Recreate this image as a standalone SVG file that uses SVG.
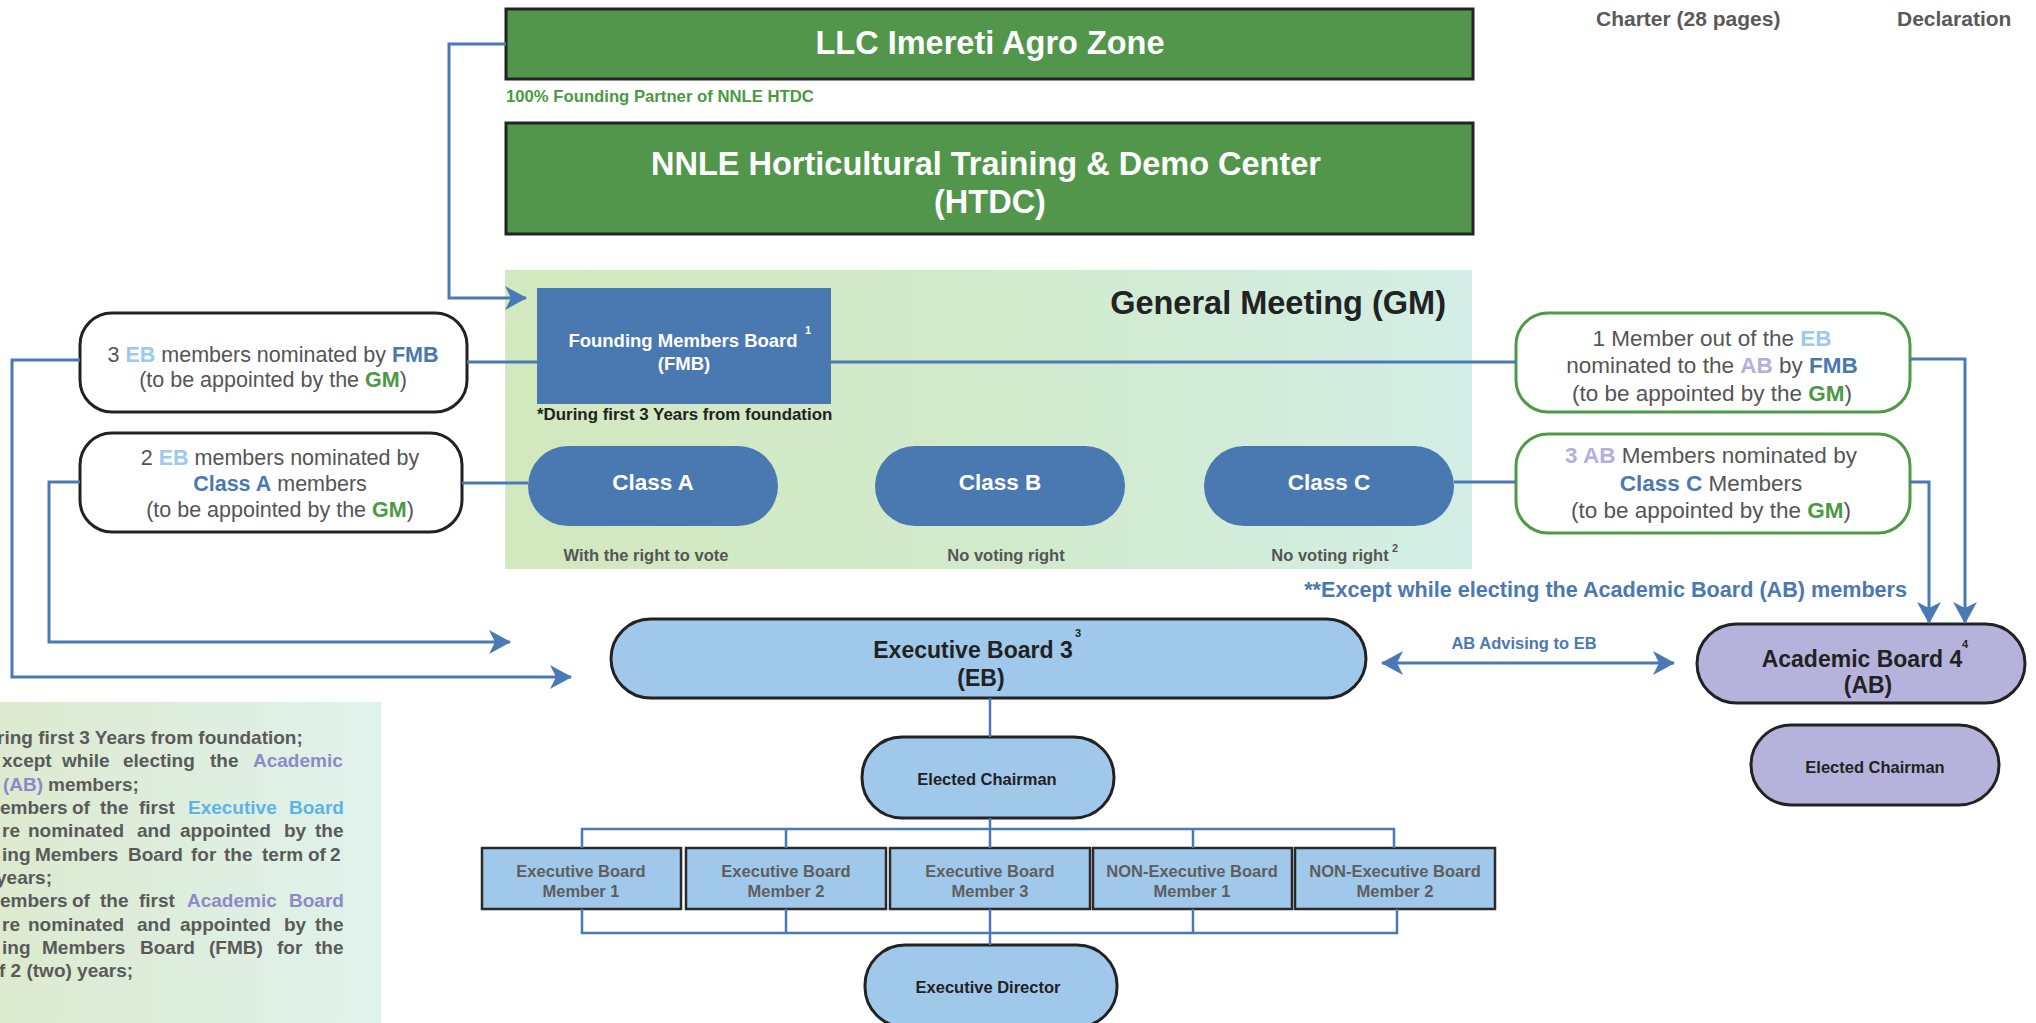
<svg xmlns="http://www.w3.org/2000/svg" width="2036" height="1023" viewBox="0 0 2036 1023">
<style>
text{font-family:"Liberation Sans",Arial,Helvetica,sans-serif}
.b{font-weight:bold}
.green{fill:#52964b;stroke:#232323;stroke-width:3}
.wt{fill:#fff;font-weight:bold}
.blk{fill:#222;font-weight:bold}
.dk{fill:#4a79b1}
.pill{fill:#4a79b1}
.lb{fill:#9fc8ea;stroke:#222;stroke-width:3}
.lav{fill:#b5b3dc;stroke:#222;stroke-width:3}
.mem{fill:#9fc8ea;stroke:#2a2a2a;stroke-width:2.5}
.memt{fill:#5e5e5e;font-weight:bold;font-size:16.5px}
.gray{fill:#555}
.gb{fill:#555;font-weight:bold}
.cEB{fill:#9ccaee;font-weight:bold}
.cAB{fill:#b3b0de;font-weight:bold}
.cFMB{fill:#4a79b1;font-weight:bold}
.cGM{fill:#4a9a44;font-weight:bold}
.nbox{fill:#fff;stroke:#222;stroke-width:3}
.gbox{fill:#fff;stroke:#4e9a46;stroke-width:3}
.conn{fill:none;stroke:#4a7ab5;stroke-width:3}
.bus{fill:none;stroke:#4a7ab5;stroke-width:2.5}
.note{fill:#5a5a5a;font-weight:bold;font-size:19px}
.np{fill:#8f88c9}
.nb{fill:#5cb3e6}
</style>
<defs>
<linearGradient id="gmg" x1="0" y1="0" x2="1" y2="0">
<stop offset="0" stop-color="#d2e8be"/>
<stop offset="0.5" stop-color="#d1eacb"/>
<stop offset="1" stop-color="#d3eee6"/>
</linearGradient>
<linearGradient id="ng" x1="0" y1="0" x2="1" y2="0">
<stop offset="0" stop-color="#dceacf"/>
<stop offset="1" stop-color="#e0f2ec"/>
</linearGradient>
<marker id="arr" markerUnits="userSpaceOnUse" markerWidth="22" markerHeight="24" viewBox="0 0 22 24" refX="21" refY="12" orient="auto-start-reverse">
<path d="M0,0 L22,12 L0,24 L6,12 Z" fill="#4a7ab5"/>
</marker>
</defs>
<rect width="2036" height="1023" fill="#fff"/>

<g id="header-notes">
<text x="1596" y="26" class="b" font-size="21" fill="#595959">Charter (28 pages)</text>
<text x="1897" y="26" class="b" font-size="21" fill="#595959">Declaration</text>
</g>

<g id="llc">
<rect x="506" y="9" width="967" height="70" class="green"/>
<text x="990" y="54" text-anchor="middle" class="wt" font-size="32.5">LLC Imereti Agro Zone</text>
<text x="506" y="102" class="cGM" font-size="16.7">100% Founding Partner of NNLE HTDC</text>
</g>

<g id="htdc">
<rect x="506" y="123" width="967" height="111" class="green"/>
<text x="986" y="175" text-anchor="middle" class="wt" font-size="32.5">NNLE Horticultural Training &amp; Demo Center</text>
<text x="990" y="213" text-anchor="middle" class="wt" font-size="32.5">(HTDC)</text>
</g>

<g id="general-meeting">
<rect x="505" y="270" width="967" height="299" fill="url(#gmg)"/>
<text x="1446" y="314" text-anchor="end" class="blk" font-size="32.5">General Meeting (GM)</text>
</g>

<g id="fmb">
<rect x="537" y="288" width="294" height="116" fill="#4a79b1"/>
<text x="683" y="347" text-anchor="middle" class="wt" font-size="18.5">Founding Members Board</text>
<text x="805" y="334" class="wt" font-size="11">1</text>
<text x="684" y="370" text-anchor="middle" class="wt" font-size="18.5">(FMB)</text>
<text x="537" y="420" class="blk" font-size="16.9" fill="#111">*During first 3 Years from foundation</text>
</g>

<g id="class-a">
<rect x="528" y="446" width="250" height="80" rx="40" class="pill"/>
<text x="653" y="490" text-anchor="middle" class="wt" font-size="22.5">Class A</text>
<text x="646" y="561" text-anchor="middle" class="gb" font-size="16.5">With the right to vote</text>
</g>
<g id="class-b">
<rect x="875" y="446" width="250" height="80" rx="40" class="pill"/>
<text x="1000" y="490" text-anchor="middle" class="wt" font-size="22.5">Class B</text>
<text x="1006" y="561" text-anchor="middle" class="gb" font-size="16.5">No voting right</text>
</g>
<g id="class-c">
<rect x="1204" y="446" width="250" height="80" rx="40" class="pill"/>
<text x="1329" y="490" text-anchor="middle" class="wt" font-size="22.5">Class C</text>
<text x="1330" y="561" text-anchor="middle" class="gb" font-size="16.5">No voting right</text>
<text x="1392" y="552" class="gb" font-size="11">2</text>
</g>

<g id="eb-fmb-nominees">
<rect x="80" y="313" width="387" height="99" rx="32" class="nbox"/>
<text x="273" y="362" text-anchor="middle" class="gray" font-size="21.5">3 <tspan class="cEB">EB</tspan> members nominated by <tspan class="cFMB">FMB</tspan></text>
<text x="273" y="387" text-anchor="middle" class="gray" font-size="21.5">(to be appointed by the <tspan class="cGM">GM</tspan>)</text>
</g>

<g id="eb-classa-nominees">
<rect x="80" y="433" width="382" height="99" rx="32" class="nbox"/>
<text x="280" y="465" text-anchor="middle" class="gray" font-size="21.5">2 <tspan class="cEB">EB</tspan> members nominated by</text>
<text x="280" y="491" text-anchor="middle" class="gray" font-size="21.5"><tspan class="cFMB">Class A</tspan> members</text>
<text x="280" y="517" text-anchor="middle" class="gray" font-size="21.5">(to be appointed by the <tspan class="cGM">GM</tspan>)</text>
</g>

<g id="ab-fmb-nominee">
<rect x="1516" y="313" width="394" height="99" rx="32" class="gbox"/>
<text x="1712" y="346" text-anchor="middle" class="gray" font-size="22.5">1 Member out of the <tspan class="cEB">EB</tspan></text>
<text x="1712" y="373" text-anchor="middle" class="gray" font-size="22.5">nominated to the <tspan class="cAB">AB</tspan> by <tspan class="cFMB">FMB</tspan></text>
<text x="1712" y="401" text-anchor="middle" class="gray" font-size="22.5">(to be appointed by the <tspan class="cGM">GM</tspan>)</text>
</g>

<g id="ab-classc-nominees">
<rect x="1516" y="434" width="394" height="99" rx="32" class="gbox"/>
<text x="1711" y="463" text-anchor="middle" class="gray" font-size="22.5"><tspan class="cAB">3 AB</tspan> Members nominated by</text>
<text x="1711" y="491" text-anchor="middle" class="gray" font-size="22.5"><tspan class="cFMB">Class C</tspan> Members</text>
<text x="1711" y="518" text-anchor="middle" class="gray" font-size="22.5">(to be appointed by the <tspan class="cGM">GM</tspan>)</text>
</g>

<g id="except-note">
<text x="1907" y="597" text-anchor="end" class="cFMB" font-size="21.6">**Except while electing the Academic Board (AB) members</text>
</g>

<g id="executive-board">
<rect x="611" y="619" width="755" height="79" rx="39.5" class="lb"/>
<text x="973" y="658" text-anchor="middle" class="blk" font-size="23">Executive Board 3</text>
<text x="1075" y="637" class="blk" font-size="11">3</text>
<text x="981" y="686" text-anchor="middle" class="blk" font-size="23">(EB)</text>
</g>

<g id="academic-board">
<rect x="1697" y="624" width="328" height="79" rx="39.5" class="lav"/>
<text x="1862" y="667" text-anchor="middle" class="blk" font-size="23">Academic Board 4</text>
<text x="1962" y="648" class="blk" font-size="11">4</text>
<text x="1868" y="693" text-anchor="middle" class="blk" font-size="23">(AB)</text>
</g>

<g id="ab-chairman">
<rect x="1751" y="725" width="248" height="80" rx="40" class="lav"/>
<text x="1875" y="773" text-anchor="middle" class="blk" font-size="16.5">Elected Chairman</text>
</g>

<g id="eb-chairman">
<rect x="862" y="737" width="252" height="81" rx="40" class="lb"/>
<text x="987" y="785" text-anchor="middle" class="blk" font-size="16.5">Elected Chairman</text>
</g>

<g id="eb-member-1">
<rect x="482" y="848" width="199" height="61" class="mem"/>
<text x="581" y="877" text-anchor="middle" class="memt">Executive Board</text>
<text x="581" y="897" text-anchor="middle" class="memt">Member 1</text>
</g>
<g id="eb-member-2">
<rect x="686" y="848" width="200" height="61" class="mem"/>
<text x="786" y="877" text-anchor="middle" class="memt">Executive Board</text>
<text x="786" y="897" text-anchor="middle" class="memt">Member 2</text>
</g>
<g id="eb-member-3">
<rect x="890" y="848" width="200" height="61" class="mem"/>
<text x="990" y="877" text-anchor="middle" class="memt">Executive Board</text>
<text x="990" y="897" text-anchor="middle" class="memt">Member 3</text>
</g>
<g id="non-eb-member-1">
<rect x="1093" y="848" width="199" height="61" class="mem"/>
<text x="1192" y="877" text-anchor="middle" class="memt">NON-Executive Board</text>
<text x="1192" y="897" text-anchor="middle" class="memt">Member 1</text>
</g>
<g id="non-eb-member-2">
<rect x="1295" y="848" width="200" height="61" class="mem"/>
<text x="1395" y="877" text-anchor="middle" class="memt">NON-Executive Board</text>
<text x="1395" y="897" text-anchor="middle" class="memt">Member 2</text>
</g>

<g id="executive-director">
<rect x="865" y="945" width="252" height="82" rx="40" class="lb"/>
<text x="988" y="993" text-anchor="middle" class="blk" font-size="16.5">Executive Director</text>
</g>

<g id="footnotes">
<rect x="0" y="702" width="381" height="321" fill="url(#ng)"/>
<text class="note" y="744"><tspan x="-3">ring first 3 Years from foundation;</tspan></text>
<text class="note" y="767"><tspan x="2">xcept</tspan><tspan x="62">while</tspan><tspan x="123">electing</tspan><tspan x="210">the</tspan><tspan x="253" class="np">Academic</tspan></text>
<text class="note" y="791"><tspan x="3" class="np">(AB)</tspan><tspan x="48">members;</tspan></text>
<text class="note" y="814"><tspan x="0">embers</tspan><tspan x="72">of</tspan><tspan x="100">the</tspan><tspan x="139">first</tspan><tspan x="188" class="nb">Executive</tspan><tspan x="289" class="nb">Board</tspan></text>
<text class="note" y="837"><tspan x="2">re</tspan><tspan x="28">nominated</tspan><tspan x="137">and</tspan><tspan x="180">appointed</tspan><tspan x="284">by</tspan><tspan x="315">the</tspan></text>
<text class="note" y="861"><tspan x="2">ing</tspan><tspan x="35">Members</tspan><tspan x="128">Board</tspan><tspan x="191">for</tspan><tspan x="224">the</tspan><tspan x="262">term</tspan><tspan x="308">of</tspan><tspan x="330">2</tspan></text>
<text class="note" y="884"><tspan x="-4">years;</tspan></text>
<text class="note" y="907"><tspan x="0">embers</tspan><tspan x="72">of</tspan><tspan x="100">the</tspan><tspan x="139">first</tspan><tspan x="187" class="np">Academic</tspan><tspan x="289" class="np">Board</tspan></text>
<text class="note" y="931"><tspan x="2">re</tspan><tspan x="28">nominated</tspan><tspan x="137">and</tspan><tspan x="180">appointed</tspan><tspan x="284">by</tspan><tspan x="315">the</tspan></text>
<text class="note" y="954"><tspan x="2">ing</tspan><tspan x="42">Members</tspan><tspan x="140">Board</tspan><tspan x="209">(FMB)</tspan><tspan x="277">for</tspan><tspan x="315">the</tspan></text>
<text class="note" y="977"><tspan x="-1">f 2 (two) years;</tspan></text>
</g>

<g id="connectors">
<polyline class="conn" points="506,44 449,44 449,298 526,298" marker-end="url(#arr)"/>
<line class="conn" x1="467" y1="362" x2="537" y2="362"/>
<line class="conn" x1="831" y1="362" x2="1516" y2="362"/>
<line class="conn" x1="462" y1="483" x2="528" y2="483"/>
<line class="conn" x1="1454" y1="482" x2="1516" y2="482"/>
<polyline class="conn" points="80,360 12,360 12,677 571,677" marker-end="url(#arr)"/>
<polyline class="conn" points="80,482 49,482 49,642 510,642" marker-end="url(#arr)"/>
<polyline class="conn" points="1910,359 1965,359 1965,623" marker-end="url(#arr)"/>
<polyline class="conn" points="1910,482 1929,482 1929,623" marker-end="url(#arr)"/>
<line class="conn" x1="1382" y1="663" x2="1674" y2="663" marker-start="url(#arr)" marker-end="url(#arr)"/>
<text x="1524" y="649" text-anchor="middle" class="cFMB" font-size="16.5">AB Advising to EB</text>
<line class="bus" x1="990" y1="698" x2="990" y2="737"/>
<line class="bus" x1="990" y1="818" x2="990" y2="848"/>
<polyline class="bus" points="582,848 582,829 1394,829 1394,848"/>
<line class="bus" x1="786" y1="829" x2="786" y2="848"/>
<line class="bus" x1="1193" y1="829" x2="1193" y2="848"/>
<polyline class="bus" points="582,909 582,933 1397,933 1397,909"/>
<line class="bus" x1="786" y1="909" x2="786" y2="933"/>
<line class="bus" x1="990" y1="909" x2="990" y2="945"/>
<line class="bus" x1="1193" y1="909" x2="1193" y2="933"/>
</g>
</svg>
